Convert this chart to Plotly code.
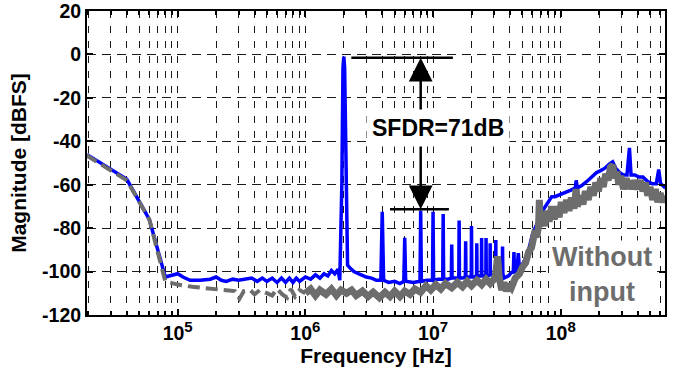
import math
import plotly.graph_objects as go

# ---------------- data ----------------
# Blue: with input (frequency [Hz], magnitude [dBFS])
blue_freq = [
    1.95e4, 2e4, 4e4, 6e4, 8e4, 9e4, 1e5, 1.1e5, 1.25e5, 1.5e5, 1.8e5, 2e5, 2.2e5, 2.4e5,
    2.7e5, 3e5, 3.4e5, 3.8e5, 4.2e5, 4.6e5, 5e5, 5.5e5, 6e5, 6.5e5, 7e5, 7.5e5, 8e5, 8.5e5,
    9e5, 1e6, 1.1e6, 1.2e6, 1.3e6, 1.4e6, 1.5e6, 1.6e6, 1.7e6, 1.8e6, 1.86e6, 1.93e6, 1.97e6,
    2.0e6, 2.03e6, 2.08e6, 2.14e6, 2.25e6, 2.4e6, 2.6e6, 2.8e6, 3e6, 3.3e6, 3.6e6, 3.9e6,
    4.0e6, 4.1e6, 4.5e6, 5.0e6, 5.5e6, 5.9e6, 6.0e6, 6.1e6, 7.0e6, 7.9e6, 8.0e6, 8.1e6,
    9.0e6, 9.9e6, 1.0e7, 1.01e7, 1.1e7, 1.19e7, 1.2e7, 1.21e7, 1.3e7, 1.39e7, 1.4e7, 1.41e7,
    1.5e7, 1.59e7, 1.6e7, 1.61e7, 1.7e7, 1.79e7, 1.8e7, 1.81e7, 1.9e7, 1.99e7, 2.0e7, 2.01e7,
    2.1e7, 2.19e7, 2.2e7, 2.21e7, 2.3e7, 2.39e7, 2.4e7, 2.41e7, 2.5e7, 2.59e7, 2.6e7, 2.61e7,
    2.7e7, 2.79e7, 2.8e7, 2.81e7, 2.9e7, 3.09e7, 3.1e7, 3.11e7, 3.3e7, 3.49e7, 3.5e7, 3.52e7,
    3.6e7, 3.9e7, 4.1e7, 4.25e7, 4.3e7, 4.35e7, 4.55e7, 4.65e7, 4.75e7, 5.2e7, 5.6e7, 6e7,
    6.4e7, 6.8e7, 7.2e7, 7.6e7, 8e7, 8.5e7, 9e7, 9.5e7, 1e8, 1.1e8, 1.2e8, 1.3e8, 1.32e8,
    1.35e8, 1.45e8, 1.6e8, 1.75e8, 1.9e8, 2.05e8, 2.2e8, 2.4e8, 2.55e8, 2.7e8, 2.9e8, 3.1e8,
    3.3e8, 3.45e8, 3.55e8, 3.8e8, 4.1e8, 4.4e8, 4.8e8, 5.2e8, 5.6e8, 5.85e8, 6.05e8, 6.3e8,
    6.6e8,
]
blue_db = [
    -46, -46.5, -57.5, -76, -102.5, -101.5, -101, -102.5, -104, -104, -103.5, -102.5, -104, -104.5,
    -103.5, -104, -103.5, -103, -104.5, -103, -104.5, -103, -105, -103, -105, -103, -105, -103,
    -104.5, -102.5, -103.5, -101.5, -103, -101, -102, -99.5, -101, -99, -104, -60, -6,
    -1, -6, -60, -97, -98.5, -100, -101, -102, -102.5, -103, -104, -104,
    -72.5, -104, -105, -104.5, -105.5, -104.5, -84.5, -104.5, -105, -104.5, -72, -104.5,
    -104, -104, -72.5, -104, -103.5, -103.5, -73.5, -103.5, -103.5, -103, -87.5, -103,
    -103, -103, -76.5, -103, -103, -102.5, -86, -102.5, -102.5, -102.5, -79, -102.5,
    -102.5, -102, -87, -102, -102, -102, -84.5, -102, -102, -102, -84.5, -102,
    -102, -101.5, -87, -101.5, -101.5, -101.5, -85.5, -101.5, -101, -101, -88.5, -101,
    -103, -102, -100.5, -100, -91, -100, -99.5, -91.5, -99, -95, -90, -83,
    -79, -76, -72, -70, -68, -65.5, -65.5, -65, -64.5, -63.5, -62.5, -61.5, -58,
    -61.5, -60.5, -58.5, -56.5, -54.5, -53.5, -52.5, -50.5, -49.5, -52.5, -54.5, -55.5,
    -55.5, -43, -55.5, -55.5, -56.5, -56.5, -58.5, -59.5, -59.5, -53, -59.5, -60.5,
    -61.5,
]

# Gray: without input
gray_freq = [
    1.95e4, 2e4, 4e4, 6e4, 8e4, 1e5, 1.3e5, 1.6e5, 2e5, 2.5e5, 2.8e5, 3.05e5, 3.3e5, 3.7e5,
    4e5, 4.4e5, 5e5, 5.5e5, 6e5, 6.6e5, 7.2e5, 7.7e5, 8.3e5, 9e5, 1e6,
    1.1e6, 1.2e6, 1.3e6, 1.45e6, 1.6e6, 1.75e6, 1.9e6, 2.1e6, 2.3e6, 2.5e6, 2.8e6, 3.1e6,
    3.4e6, 3.8e6, 4.2e6, 4.6e6, 5e6, 5.5e6, 6e6, 6.6e6, 7.2e6, 8e6, 8.8e6, 9.6e6, 1.05e7,
    1.15e7, 1.25e7, 1.4e7, 1.55e7, 1.7e7, 1.85e7, 2e7, 2.2e7, 2.4e7, 2.6e7, 2.8e7, 3.0e7,
    3.1e7, 3.2e7, 3.3e7, 3.45e7, 3.6e7, 3.75e7, 3.9e7, 4.1e7, 4.4e7, 4.75e7, 5.0e7, 5.3e7,
    5.6e7, 5.9e7, 6.2e7, 6.5e7, 6.7e7, 6.8e7, 6.9e7, 7.2e7, 7.5e7, 7.8e7, 8.1e7, 8.5e7,
    8.9e7, 9.3e7, 9.7e7, 1.01e8, 1.06e8, 1.11e8, 1.16e8, 1.21e8, 1.27e8, 1.32e8, 1.35e8,
    1.42e8, 1.49e8, 1.56e8, 1.64e8, 1.72e8, 1.8e8, 1.88e8, 1.97e8, 2.06e8, 2.15e8, 2.25e8,
    2.35e8, 2.45e8, 2.55e8, 2.65e8, 2.75e8, 2.85e8, 2.95e8, 3.1e8, 3.25e8, 3.4e8, 3.5e8,
    3.65e8, 3.8e8, 4.0e8, 4.2e8, 4.4e8, 4.6e8, 4.8e8, 5.0e8, 5.25e8, 5.5e8, 5.75e8, 6.0e8,
    6.3e8, 6.6e8,
]
gray_db = [
    -46, -47, -58, -76, -104.5, -106, -107, -107.5, -108, -109, -109, -112.5, -109, -108.5,
    -110.5, -108.5, -110, -111, -108, -110.5, -112, -108, -111.5, -108.5, -110,
    -108, -111, -108.5, -110.5, -108, -111, -108.5, -110, -108.5, -111, -109, -111.5,
    -109.5, -112, -109.5, -111.5, -109, -111.5, -109, -110.5, -108, -109.5, -106.5, -108.5, -106,
    -108, -105.5, -107.5, -105, -107, -104.5, -106.5, -104, -106, -103.5, -105.5, -103.5,
    -101, -93, -103, -108.5, -105, -109, -106, -107.5, -103, -101, -98, -96,
    -91, -89, -83, -84, -79, -67, -79, -75, -79, -72, -77, -70,
    -76, -70, -75, -68, -73, -67, -72, -66, -71, -62, -70,
    -65, -69, -63, -67, -61, -65, -59, -63, -57, -61, -55,
    -58, -52, -51, -57, -54, -60, -56, -62, -57, -62, -58,
    -62, -58, -62, -58, -63, -59, -65, -61, -67, -62, -68, -64,
    -68, -65,
]
GRAY_SPLIT = 1e6  # gray curve drawn dashed below this frequency

# axis / annotation values
x_range_hz = [1.95e4, 6.55e8]
y_range = [-120, 20]
y_ticks = [-120, -100, -80, -60, -40, -20, 0, 20]
y_tick_text = ["-120", "-100", "-80", "-60", "-40", "-20", "0", "20"]
x_major = [1e5, 1e6, 1e7, 1e8]
x_major_exp = ["5", "6", "7", "8"]
x_minor = [
    2e4, 3e4, 4e4, 5e4, 6e4, 7e4, 8e4, 9e4,
    2e5, 3e5, 4e5, 5e5, 6e5, 7e5, 8e5, 9e5,
    2e6, 3e6, 4e6, 5e6, 6e6, 7e6, 8e6, 9e6,
    2e7, 3e7, 4e7, 5e7, 6e7, 7e7, 8e7, 9e7,
    2e8, 3e8, 4e8, 5e8, 6e8,
]
sfdr_top_db, sfdr_bot_db = -1.5, -71.3
sfdr_top_x = [2.29e6, 1.43e7]
sfdr_bot_x = [4.6e6, 1.33e7]
sfdr_arrow_x = 8.0e6
sfdr_label = "SFDR=71dB"
sfdr_label_pos = (1.09e7, -34)
noinput_label = "Without<br>input"
noinput_pos = (2.09e8, -101.5)

BLUE = "#0000ff"
GRAY = "#6d6d6d"
FONT = "Liberation Sans, Arial, sans-serif"
GRID = "#1a1a1a"

x_major_text = ["10<sup><span style='font-size:15px'>%s</span></sup>" % e for e in x_major_exp]

fig = go.Figure()

fig.add_trace(go.Scatter(x=blue_freq, y=blue_db, mode="lines",
                         line=dict(color=BLUE, width=3.5), hoverinfo="skip"))

lo_f = [f for f in gray_freq if f <= GRAY_SPLIT]
lo_d = [d for f, d in zip(gray_freq, gray_db) if f <= GRAY_SPLIT]
hi_f = [f for f in gray_freq if f >= GRAY_SPLIT]
hi_d = [d for f, d in zip(gray_freq, gray_db) if f >= GRAY_SPLIT]
fig.add_trace(go.Scatter(x=lo_f, y=lo_d, mode="lines",
                         line=dict(color=GRAY, width=4, dash="12px,6px"), hoverinfo="skip"))
fig.add_trace(go.Scatter(x=hi_f, y=hi_d, mode="lines",
                         line=dict(color=GRAY, width=7), hoverinfo="skip"))

# SFDR marker lines
fig.add_trace(go.Scatter(x=sfdr_top_x, y=[sfdr_top_db] * 2, mode="lines",
                         line=dict(color="black", width=2.5), hoverinfo="skip"))
fig.add_trace(go.Scatter(x=sfdr_bot_x, y=[sfdr_bot_db] * 2, mode="lines",
                         line=dict(color="black", width=2.5), hoverinfo="skip"))

lx = math.log10(sfdr_arrow_x)
fig.add_annotation(x=lx, y=sfdr_top_db, ax=lx, ay=-27, xref="x", yref="y",
                   axref="x", ayref="y", text="", showarrow=True,
                   arrowhead=2, arrowsize=1.9, arrowwidth=2.5, arrowcolor="black")
fig.add_annotation(x=lx, y=sfdr_bot_db, ax=lx, ay=-41, xref="x", yref="y",
                   axref="x", ayref="y", text="", showarrow=True,
                   arrowhead=2, arrowsize=1.9, arrowwidth=2.5, arrowcolor="black")
fig.add_annotation(x=math.log10(sfdr_label_pos[0]), y=sfdr_label_pos[1], xref="x", yref="y",
                   text=sfdr_label, showarrow=False, bgcolor="white", borderpad=5,
                   font=dict(family=FONT, size=23, color="black", weight="bold"))
fig.add_annotation(x=math.log10(noinput_pos[0]), y=noinput_pos[1], xref="x", yref="y",
                   text=noinput_label, showarrow=False, bgcolor="white", borderpad=1,
                   font=dict(family=FONT, size=27, color=GRAY, weight="bold"))

tickfont = dict(family=FONT, size=19.5, color="black", weight="bold")
fig.update_xaxes(type="log", range=[math.log10(v) for v in x_range_hz], automargin=False,
                 tickvals=x_major, ticktext=x_major_text, tickfont=tickfont,
                 ticks="inside", ticklen=6, tickwidth=1.5, tickcolor="black",
                 showline=True, linecolor="black", linewidth=2, mirror="ticks",
                 showgrid=True, gridcolor=GRID, gridwidth=1, griddash="7px,8px",
                 minor=dict(tickvals=x_minor, ticks="inside", ticklen=4, tickcolor="black",
                            showgrid=True, gridcolor=GRID, gridwidth=1, griddash="7px,8px"),
                 zeroline=False, ticklabeloverflow="allow",
                 title=dict(text="Frequency [Hz]", standoff=4,
                            font=dict(family=FONT, size=21, color="black", weight="bold")))
fig.update_yaxes(range=y_range, automargin=False, tickvals=y_ticks, ticktext=y_tick_text,
                 tickfont=tickfont, ticklabeloverflow="allow",
                 ticks="inside", ticklen=6, tickwidth=1.5, tickcolor="black",
                 showline=True, linecolor="black", linewidth=2, mirror="ticks",
                 showgrid=True, gridcolor=GRID, gridwidth=1, griddash="9px,6px",
                 zeroline=False,
                 title=dict(text="Magnitude [dBFS]", standoff=10,
                            font=dict(family=FONT, size=21, color="black", weight="bold")))

fig.update_layout(width=675, height=378, showlegend=False,
                  margin=dict(l=87, r=10, t=11, b=63),
                  paper_bgcolor="white", plot_bgcolor="white")

# remove the page's default body margin so the figure sits at the window origin
fig.write_html("out.html", config={"displayModeBar": False},
               post_script="document.body.style.margin='0px';")
